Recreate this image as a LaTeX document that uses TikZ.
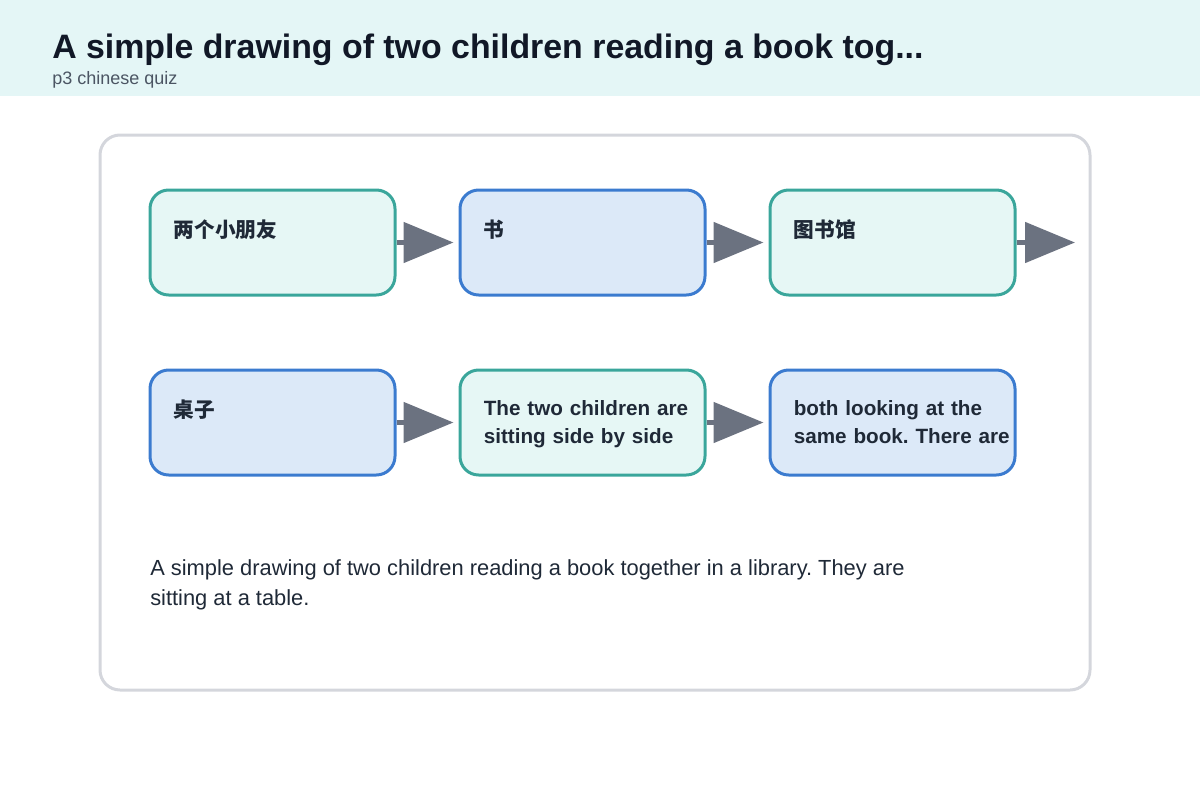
\documentclass[tikz,border=0pt]{standalone}
\usepackage{fontspec}
\setmainfont{Liberation Sans}
\newfontfamily\cjk{Noto Sans CJK SC}
\usetikzlibrary{arrows.meta}
\frenchspacing
\definecolor{headbg}{HTML}{E4F6F6}
\definecolor{titlecol}{HTML}{111827}
\definecolor{subcol}{HTML}{4B5563}
\definecolor{framecol}{HTML}{D4D6DC}
\definecolor{tealline}{HTML}{3AA69B}
\definecolor{tealfill}{HTML}{E6F7F5}
\definecolor{blueline}{HTML}{3B7BCF}
\definecolor{bluefill}{HTML}{DCE9F8}
\definecolor{arrowcol}{HTML}{6B7280}
\definecolor{textcol}{HTML}{1F2937}
\tikzset{
  box/.style={rectangle, rounded corners=14pt, line width=2.25pt, minimum width=183.75pt, minimum height=78.75pt, inner sep=0pt},
  tealbox/.style={box, draw=tealline, fill=tealfill},
  bluebox/.style={box, draw=blueline, fill=bluefill},
  boxtext/.style={anchor=north west, inner sep=0pt, align=left, text width=170pt, text=textcol, font=\fontsize{15.5}{21}\selectfont\bfseries},
  flow/.style={draw=arrowcol, line width=3.75pt, -{Triangle[length=37.5pt, width=30pt]}, shorten >=3.75pt}
}
\begin{document}
\begin{tikzpicture}[x=0.75pt, y=-0.75pt]
  \useasboundingbox (0,0) rectangle (1200,800);
  \fill[headbg] (0,0) rectangle (1200,96);
  \node[anchor=base west, inner sep=0pt, text=titlecol, font=\fontsize{25.4}{30}\selectfont\bfseries] (title) at (52,58) {A simple drawing of two children reading a book tog...};
  \node[anchor=base west, inner sep=0pt, text=subcol, font=\fontsize{13.5}{16}\selectfont] (subtitle) at (52,84) {p3 chinese quiz};
  \draw[framecol, line width=2.25pt, rounded corners=15pt] (100,135) rectangle (1090,690);
  % row 1
  \node[tealbox] (b1) at (272.5,242.5) {};
  \node[bluebox] (b2) at (582.5,242.5) {};
  \node[tealbox] (b3) at (892.5,242.5) {};
  % row 2
  \node[bluebox] (b4) at (272.5,422.5) {};
  \node[tealbox] (b5) at (582.5,422.5) {};
  \node[bluebox] (b6) at (892.5,422.5) {};
  \coordinate (end3) at (1080,242.5);
  \foreach \n/\txt in {1/{\cjk 两个小朋友}, 2/{\cjk 书}, 3/{\cjk 图书馆}, 4/{\cjk 桌子}, 5/{The two children are\\sitting side by side}, 6/{both looking at the\\same book. There are}}
    \node[boxtext] (t\n) at ([xshift=18.75pt, yshift=-23.5pt]b\n.north west) {\txt};
  \foreach \source/\dest in {b1/b2, b2/b3, b3/end3, b4/b5, b5/b6}
    \path[flow] (\source) -- (\dest);
  \node[anchor=north west, inner sep=0pt, align=left, text=textcol, font=\fontsize{16.4}{22.5}\selectfont] (caption) at (150,559) {A simple drawing of two children reading a book together in a library. They are\\sitting at a table.};
\end{tikzpicture}
\end{document}
